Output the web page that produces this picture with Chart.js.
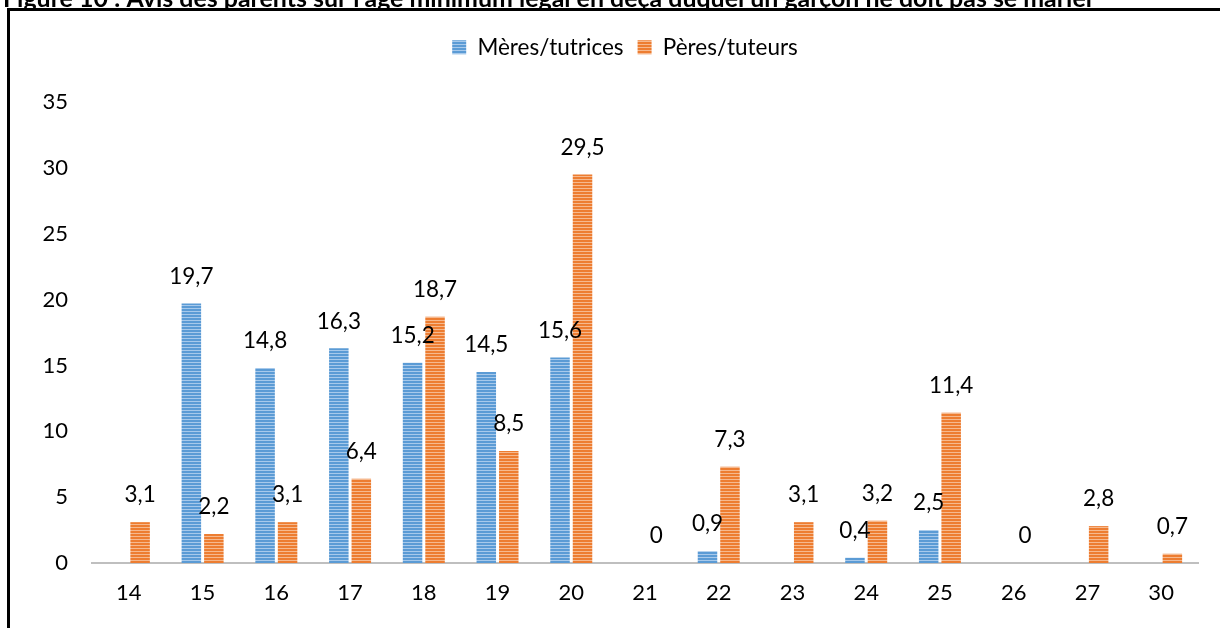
<!DOCTYPE html>
<html lang="fr">
<head>
<meta charset="utf-8">
<title>Figure 10</title>
<script src="https://cdn.jsdelivr.net/npm/chart.js@4.4.1/dist/chart.umd.min.js"></script>
<style>
  html, body { margin: 0; padding: 0; background: #fff; }
  #wrap { position: relative; width: 1220px; height: 628px; overflow: hidden; }
  canvas { display: block; }
</style>
</head>
<body>
<div id="wrap"><canvas id="chart" width="1220" height="628"></canvas></div>
<script>
// Âges proposés (catégories) et pourcentages par type de parent
const ages = ['14', '15', '16', '17', '18', '19', '20', '21', '22', '23', '24', '25', '26', '27', '30'];
const meres = [null, 19.7, 14.8, 16.3, 15.2, 14.5, 15.6, null, 0.9, null, 0.4, 2.5, null, null, null];
const peres = [3.1, 2.2, 3.1, 6.4, 18.7, 8.5, 29.5, 0, 7.3, 3.1, 3.2, 11.4, 0, 2.8, 0.7];
const yTicks = [0, 5, 10, 15, 20, 25, 30, 35];
const seriesNames = ['Mères/tutrices', 'Pères/tuteurs'];
const titleText = "Figure 10 : Avis des parents sur l'âge minimum légal en deçà duquel un garçon ne doit pas se marier";

const FONT = 'Lato, "Open Sans", "DejaVu Sans", sans-serif';

// Hachures horizontales claires sur les barres
function stripes(base, light) {
  const c = document.createElement('canvas');
  c.width = 4; c.height = 3;
  const g = c.getContext('2d');
  g.fillStyle = base; g.fillRect(0, 0, 4, 3);
  g.fillStyle = light; g.fillRect(0, 2, 4, 1);
  return g.createPattern(c, 'repeat');
}
const bluePat = stripes('#5b9bd5', '#a7c9eb');
const orangePat = stripes('#ed7d31', '#f6b98e');

const fmt = v => String(v).replace('.', ',');

// Cadre noir et titre tronqué en haut
const frame = {
  id: 'frame',
  beforeDraw(chart) {
    const ctx = chart.ctx;
    ctx.save();
    ctx.fillStyle = '#fff';
    ctx.fillRect(0, 0, chart.width, chart.height);
    ctx.font = 'bold 22px ' + FONT;
    const w = ctx.measureText(titleText).width;
    const size = 22 * 1092 / w;
    ctx.font = 'bold ' + size.toFixed(2) + 'px ' + FONT;
    ctx.fillStyle = '#000';
    ctx.textBaseline = 'alphabetic';
    ctx.textAlign = 'left';
    ctx.fillText(titleText, 3, 7);
    ctx.fillStyle = '#fff';
    ctx.fillRect(0, 8, chart.width, 2);
    ctx.strokeStyle = '#000';
    ctx.lineWidth = 3;
    ctx.beginPath();
    ctx.moveTo(8.5, chart.height);
    ctx.lineTo(8.5, 9.5);
    ctx.lineTo(chart.width, 9.5);
    ctx.stroke();
    ctx.restore();
  }
};

// Étiquettes de valeur au-dessus des barres
const valueLabels = {
  id: 'valueLabels',
  afterDatasetsDraw(chart) {
    const ctx = chart.ctx;
    ctx.save();
    ctx.font = '22.5px ' + FONT;
    ctx.fillStyle = '#000';
    ctx.textAlign = 'center';
    ctx.textBaseline = 'middle';
    chart.data.datasets.forEach((ds, i) => {
      const meta = chart.getDatasetMeta(i);
      meta.data.forEach((el, j) => {
        const v = ds.data[j];
        if (v === null || v === undefined) return;
        ctx.fillText(fmt(v), el.x, el.y - 27);
      });
    });
    ctx.restore();
  }
};

// Hauteur fixe du bloc légende, décalée vers la droite
const legendBox = {
  id: 'legendBox',
  beforeInit(chart) {
    const fit = chart.legend.fit;
    chart.legend.fit = function () {
      fit.call(this);
      this.height = 80;
    };
  },
  afterLayout(chart) {
    chart.legend.left += 16;
    chart.legend.right += 16;
  }
};

new Chart(document.getElementById('chart'), {
  type: 'bar',
  data: {
    labels: ages,
    datasets: [
      { label: seriesNames[0], data: meres, backgroundColor: bluePat, borderWidth: 0,
        barPercentage: 0.867, categoryPercentage: 0.61 },
      { label: seriesNames[1], data: peres, backgroundColor: orangePat, borderWidth: 0,
        barPercentage: 0.867, categoryPercentage: 0.61 }
    ]
  },
  options: {
    responsive: false,
    animation: false,
    layout: { padding: { top: 22, left: 20, right: 22, bottom: 0 } },
    plugins: {
      legend: {
        position: 'top',
        labels: {
          boxWidth: 14, boxHeight: 14,
          padding: 14,
          color: '#000',
          font: { family: FONT, size: 22.5 }
        }
      },
      tooltip: { enabled: false },
      title: { display: false }
    },
    scales: {
      x: {
        grid: { display: false },
        border: { display: true, color: '#bfbfbf', width: 2 },
        ticks: { color: '#000', font: { family: FONT, size: 22 }, padding: 9 },
        afterFit(s) { s.height = 65; }
      },
      y: {
        min: 0, max: 35,
        grid: { display: false },
        border: { display: false },
        afterBuildTicks(s) { s.ticks = yTicks.map(v => ({ value: v })); },
        ticks: { color: '#000', font: { family: FONT, size: 22 }, padding: 16 },
        afterFit(s) { s.width = 72; }
      }
    }
  },
  plugins: [frame, valueLabels, legendBox]
});
</script>
</body>
</html>
